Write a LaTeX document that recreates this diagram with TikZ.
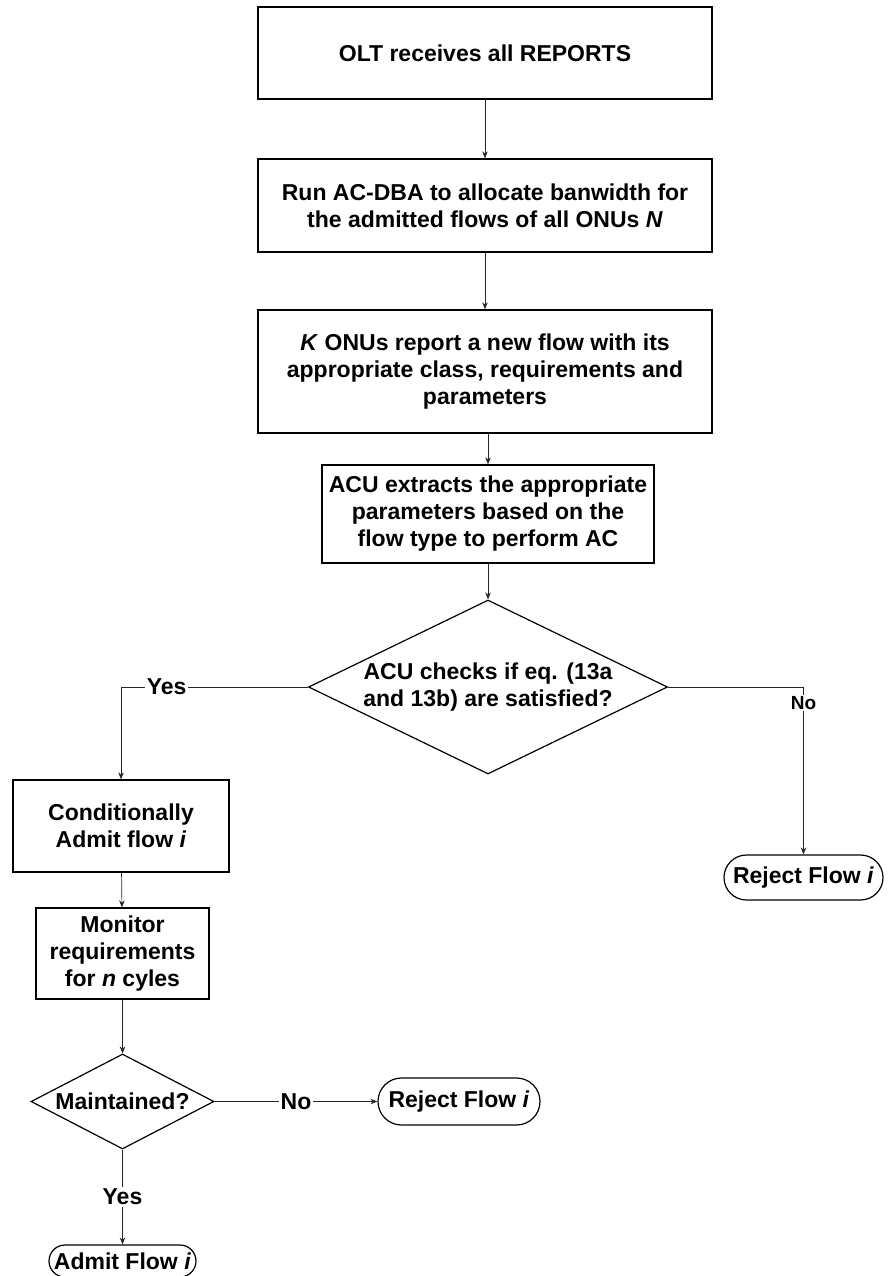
\documentclass[tikz,border=0pt]{standalone}
\usepackage{fontspec}
\setmainfont{Liberation Sans}
\usetikzlibrary{arrows.meta,shapes.geometric,shapes.misc}

\begin{document}
\begin{tikzpicture}[x=1pt,y=-1pt,
  every node/.style={font=\fontsize{23}{27}\selectfont\bfseries},
  procbox/.style={draw=black,line width=1.3pt,rectangle,align=center,inner sep=2pt},
  decision/.style={draw=black,line width=1.2pt,diamond,inner sep=0pt},
  terminal/.style={draw=black,line width=1.2pt,rounded rectangle,align=center,inner sep=2pt},
  conn/.style={draw=black!85,line width=0.7pt,-{Stealth[length=7pt,width=5.5pt]}},
  lbl/.style={fill=white,inner sep=1.5pt}
]
\useasboundingbox (0,0) rectangle (887,1276);
\fill[white] (0,0) rectangle (887,1276);

% main column
\node[procbox,minimum width=454pt,minimum height=92pt] (olt) at (485,53) {OLT receives all REPORTS};
\node[procbox,minimum width=454pt,minimum height=93pt] (dba) at (485,205.5)
  {Run AC-DBA to allocate banwidth for\\the admitted flows of all ONUs \textit{N}};
\node[procbox,minimum width=454pt,minimum height=123pt] (rep) at (485,371.5)
  {\textit{K} ONUs report a new flow with its\\appropriate class, requirements and\\parameters};
\node[procbox,minimum width=332pt,minimum height=98pt] (acu) at (488,514)
  {ACU extracts the appropriate\\parameters based on the\\flow type to perform AC};

% first decision
\node[decision,minimum width=359pt,minimum height=174pt] (chk) at (488,687) {};
\node[align=center] (chktext) at (chk.center) {ACU checks if eq. (13a\\and 13b) are satisfied?};

% admitted branch
\node[procbox,minimum width=216pt,minimum height=92pt] (cond) at (121,826)
  {Conditionally\\Admit flow \textit{i}};
\node[procbox,minimum width=173pt,minimum height=91pt] (mon) at (122.5,953.5)
  {Monitor\\requirements\\for \textit{n} cyles};
\node[decision,minimum width=183pt,minimum height=95pt] (mnt) at (122.5,1101.5) {};
\node (mnttext) at (mnt.center) {Maintained?};

% terminals
\node[terminal,minimum width=163pt,minimum height=45pt] (rej1) at (803.5,877.5) {Reject Flow \textit{i}};
\node[terminal,minimum width=166pt,minimum height=47pt] (rej2) at (459,1101.5) {Reject Flow \textit{i}};
\node[terminal,minimum width=151pt,minimum height=32pt] (adm) at (122.5,1261) {Admit Flow \textit{i}};

% connectors
\draw[conn] (olt) -- (dba);
\draw[conn] (dba) -- (rep);
\draw[conn] (rep.south -| acu.north) -- (acu.north);
\draw[conn] (acu) -- (chk.north);
\draw[conn] (chk.west) -| node[lbl,pos=0.378] {Yes} (cond.north);
\draw[conn] (chk.east) -| node[lbl,pos=0.548,font=\fontsize{19}{22}\selectfont\bfseries] {No} (rej1.north);
\draw[conn] (cond) -- (mon);
\draw[conn] (mon) -- (mnt.north);
\draw[conn] (mnt.east) -- node[lbl] {No} (rej2.west);
\draw[conn] (mnt.south) -- node[lbl] {Yes} (adm.north);
\end{tikzpicture}
\end{document}
